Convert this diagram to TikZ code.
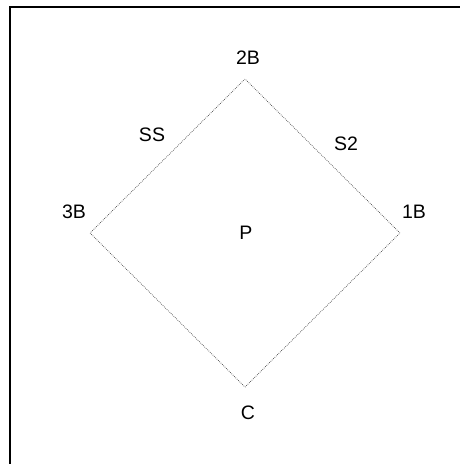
\documentclass[tikz,border=0pt]{standalone}
\usepackage{fontspec}
\setmainfont{Liberation Sans}
\begin{document}
\begin{tikzpicture}[x=1pt,y=-1pt,
  lbl/.style={font=\fontsize{19.5}{22}\selectfont, inner sep=0pt, anchor=center},
  baseline/.style={draw=black!75, line width=0.7pt, dash pattern=on 0.7pt off 1.2pt}]
\useasboundingbox (0,0) rectangle (459,464);
\draw[line width=1.4pt] (10,470) -- (10,7) -- (470,7);
\coordinate (b2) at (245,79);
\coordinate (b3) at (90,233);
\coordinate (b1) at (400,233);
\coordinate (home) at (245,387);
\draw[baseline] (home) -- (b1) -- (b2) -- (b3) -- cycle;
\node[lbl] (l2B) at (248,58) {2B};
\node[lbl] (lSS) at (152,135) {SS};
\node[lbl] (lS2) at (346,144) {S2};
\node[lbl] (l3B) at (74,212) {3B};
\node[lbl] (l1B) at (414,212) {1B};
\node[lbl] (lP) at (246,233) {P};
\node[lbl] (lC) at (248,413) {C};
\end{tikzpicture}
\end{document}
